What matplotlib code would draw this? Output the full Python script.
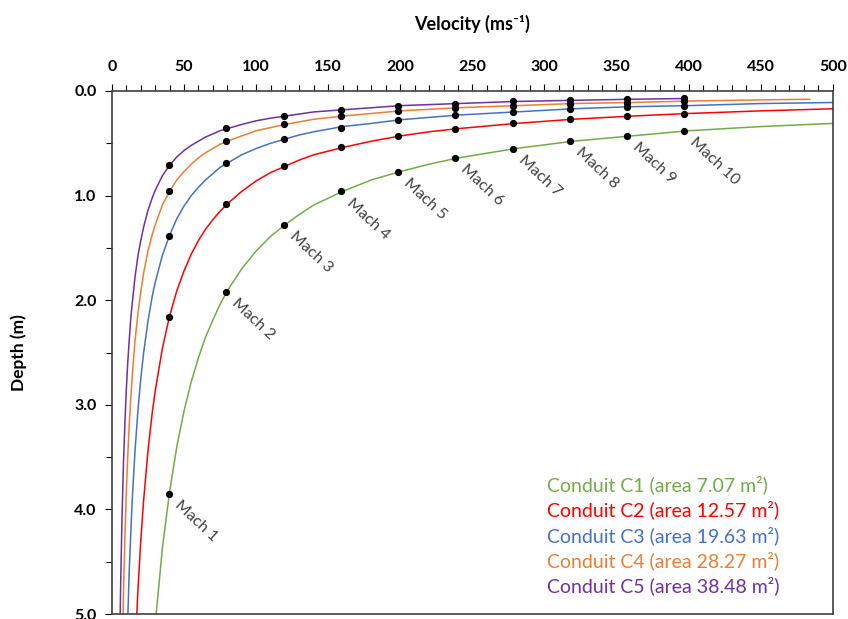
import matplotlib.pyplot as plt
from matplotlib.ticker import MultipleLocator

plt.rcParams['font.family'] = ['Lato', 'DejaVu Sans']

# curve data (velocity m/s, depth m)
v_c1 = [28, 30, 35, 40, 45, 50, 55, 60, 65, 70, 75, 80, 90, 100, 110, 120, 130, 140, 160, 180,
        200, 220, 240, 280, 320, 360, 400, 450, 500]
d_c1 = [5.46, 5.10, 4.37, 3.83, 3.40, 3.06, 2.78, 2.55, 2.35, 2.19, 2.04, 1.91, 1.70, 1.53, 1.39,
        1.28, 1.18, 1.09, 0.96, 0.85, 0.77, 0.70, 0.64, 0.55, 0.48, 0.43, 0.38, 0.34, 0.31]
v_c2 = [16, 18, 20, 22, 25, 28, 30, 35, 40, 45, 50, 55, 60, 65, 70, 75, 80, 90, 100, 110,
        120, 130, 140, 160, 180, 200, 220, 240, 280, 320, 360, 400, 450, 500]
d_c2 = [5.38, 4.78, 4.30, 3.91, 3.44, 3.07, 2.87, 2.46, 2.15, 1.91, 1.72, 1.56, 1.43, 1.32, 1.23,
        1.15, 1.08, 0.96, 0.86, 0.78, 0.72, 0.66, 0.61, 0.54, 0.48, 0.43, 0.39, 0.36, 0.31, 0.27,
        0.24, 0.215, 0.19, 0.17]
v_c3 = [10, 12, 14, 16, 18, 20, 22, 25, 28, 30, 35, 40, 45, 50, 55, 60, 65, 70, 75, 80,
        90, 100, 110, 120, 130, 140, 160, 180, 200, 240, 280, 320, 360, 400, 450, 500]
d_c3 = [5.5, 4.58, 3.93, 3.44, 3.06, 2.75, 2.50, 2.20, 1.96, 1.83, 1.57, 1.38, 1.22, 1.10, 1.00,
        0.92, 0.85, 0.79, 0.73, 0.69, 0.61, 0.55, 0.50, 0.46, 0.42, 0.39, 0.34, 0.31, 0.275, 0.23,
        0.20, 0.17, 0.15, 0.14, 0.12, 0.11]
v_c4 = [7, 8, 9, 10, 11, 12, 13, 14, 16, 18, 20, 22, 25, 28, 30, 35, 40, 45, 50, 55,
        60, 65, 70, 75, 80, 90, 100, 110, 120, 140, 160, 200, 240, 280, 320, 360, 400, 450, 484]
d_c4 = [5.47, 4.79, 4.26, 3.83, 3.48, 3.19, 2.95, 2.74, 2.39, 2.13, 1.92, 1.74, 1.53, 1.37, 1.28,
        1.09, 0.96, 0.85, 0.77, 0.70, 0.64, 0.59, 0.55, 0.51, 0.48, 0.43, 0.38, 0.35, 0.32, 0.27,
        0.24, 0.19, 0.16, 0.14, 0.12, 0.11, 0.096, 0.085, 0.079]
v_c5 = [5, 6, 7, 8, 9, 10, 11, 12, 13, 14, 16, 18, 20, 22, 25, 28, 30, 35, 40, 45,
        50, 55, 60, 65, 70, 75, 80, 90, 100, 110, 120, 140, 160, 200, 240, 280, 320, 360, 397]
d_c5 = [5.7, 4.75, 4.07, 3.56, 3.17, 2.85, 2.59, 2.38, 2.19, 2.04, 1.78, 1.58, 1.43, 1.30, 1.14,
        1.02, 0.95, 0.81, 0.71, 0.63, 0.57, 0.52, 0.48, 0.44, 0.41, 0.38, 0.36, 0.32, 0.285, 0.26,
        0.24, 0.20, 0.18, 0.14, 0.12, 0.10, 0.089, 0.079, 0.072]

# Mach points
mach_v = [39.7, 79.4, 119.1, 158.8, 198.5, 238.2, 277.9, 317.6, 357.3, 397.0]
mach_labels = ["Mach %d" % i for i in range(1, 11)]
mach_c1 = [3.85, 1.92, 1.28, 0.96, 0.77, 0.64, 0.55, 0.48, 0.43, 0.385]
mach_c2 = [2.16, 1.08, 0.72, 0.54, 0.43, 0.36, 0.31, 0.27, 0.24, 0.216]
mach_c3 = [1.39, 0.69, 0.46, 0.35, 0.28, 0.23, 0.20, 0.17, 0.15, 0.139]
mach_c4 = [0.96, 0.48, 0.32, 0.24, 0.19, 0.16, 0.14, 0.12, 0.11, 0.096]
mach_c5 = [0.71, 0.35, 0.24, 0.18, 0.14, 0.12, 0.10, 0.09, 0.08, 0.071]

names = ["Conduit C1 (area 7.07 m\u00b2)", "Conduit C2 (area 12.57 m\u00b2)",
         "Conduit C3 (area 19.63 m\u00b2)", "Conduit C4 (area 28.27 m\u00b2)",
         "Conduit C5 (area 38.48 m\u00b2)"]
colors = ["#70AD47", "#FF0000", "#4472C4", "#ED7D31", "#7030A0"]

fig = plt.figure(figsize=(8.48, 6.19), dpi=100)
ax = fig.add_axes([0.132, 0.008, 0.850, 0.845])

curves = [(v_c1, d_c1), (v_c2, d_c2), (v_c3, d_c3), (v_c4, d_c4), (v_c5, d_c5)]
dots = [mach_c1, mach_c2, mach_c3, mach_c4, mach_c5]
handles = []
for (v, d), m, c, n in zip(curves, dots, colors, names):
    h, = ax.plot(v, d, color=c, lw=1.1, label=n)
    handles.append(h)
    ax.plot(mach_v, m, 'o', color='black', ms=4.2, zorder=3)

for x, y, s in zip(mach_v, mach_c1, mach_labels):
    ax.annotate(s, (x, y), xytext=(9, -3), textcoords='offset points',
                rotation=-43, rotation_mode='anchor', ha='left', va='top',
                fontsize=11.5, color='#404040')

ax.set_xlim(0, 500)
ax.set_ylim(5.0, 0.0)
ax.xaxis.set_major_locator(MultipleLocator(50))
ax.xaxis.set_minor_locator(MultipleLocator(10))
ax.yaxis.set_major_locator(MultipleLocator(1.0))
ax.yaxis.set_minor_locator(MultipleLocator(0.5))
ax.yaxis.set_major_formatter(plt.FormatStrFormatter('%.1f'))
ax.xaxis.tick_top()
ax.xaxis.set_label_position('top')
ax.tick_params(axis='both', which='major', direction='out', length=5, width=0.8,
               labelsize=11.5)
ax.tick_params(axis='both', which='minor', direction='out', length=4, width=0.8)
ax.tick_params(axis='x', which='both', top=True, bottom=False, pad=7)
ax.tick_params(axis='y', which='both', right=False, pad=6)
for lab in ax.get_xticklabels() + ax.get_yticklabels():
    lab.set_fontweight('bold')
for sp in ax.spines.values():
    sp.set_color('#404040')
    sp.set_linewidth(1.2)

ax.set_xlabel("Velocity (ms\u207b\u00b9)", fontsize=13, fontweight='bold', labelpad=22)
ax.set_ylabel("Depth (m)", fontsize=12.5, fontweight='bold', labelpad=34)

leg = fig.legend(handles=handles, loc='upper left', bbox_to_anchor=(0.645, 0.232),
                 frameon=False, handlelength=0, handletextpad=0, fontsize=14,
                 labelspacing=0.33, borderpad=0, borderaxespad=0)
for t, c in zip(leg.get_texts(), colors):
    t.set_color(c)
for h in leg.legend_handles:
    h.set_visible(False)

fig.savefig("out.png", dpi=100)
